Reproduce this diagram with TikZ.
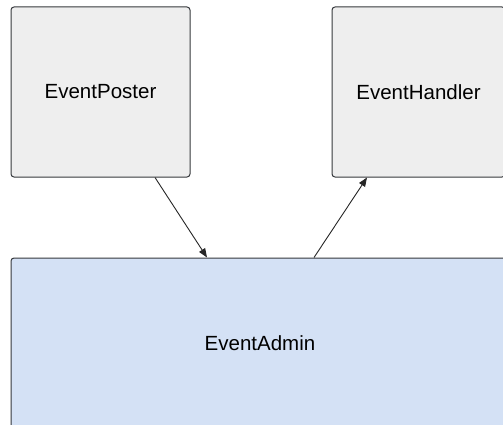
\documentclass[tikz,border=0pt]{standalone}
\usepackage{fontspec}
\setmainfont{Liberation Sans}
\usetikzlibrary{arrows.meta}
\definecolor{boxgrey}{HTML}{EEEEEE}
\definecolor{boxblue}{HTML}{D4E1F5}
\definecolor{edge}{HTML}{36393D}
\begin{document}
\begin{tikzpicture}[x=1pt,y=-1pt,
  card/.style={draw=edge,line width=1pt,rounded corners=3pt,inner sep=0pt,
    font=\fontsize{20.5}{24}\selectfont},
  link/.style={draw=black!85,line width=0.9pt,-{Triangle[length=9pt,width=7pt]}}]
\useasboundingbox (0,0) rectangle (503,425);
\clip (0,0) rectangle (503,425);
\fill[white] (0,0) rectangle (503,425);
% the two client components and the admin service below them
\node[card,fill=boxgrey,minimum width=179pt,minimum height=170pt] (poster) at (100.5,92) {EventPoster};
\node[card,fill=boxgrey,minimum width=173pt,minimum height=170pt] (handler) at (418.5,92) {EventHandler};
\node[card,fill=boxblue,minimum width=498pt,minimum height=170pt] (admin) at (260,343) {EventAdmin};
% poster sends events to the admin, the admin delivers them to the handler
\draw[link] ([xshift=54.5pt]poster.south) -- ([xshift=-53pt]admin.north);
\draw[link] ([xshift=54pt]admin.north) -- ([xshift=-51.5pt]handler.south);
\end{tikzpicture}
\end{document}
